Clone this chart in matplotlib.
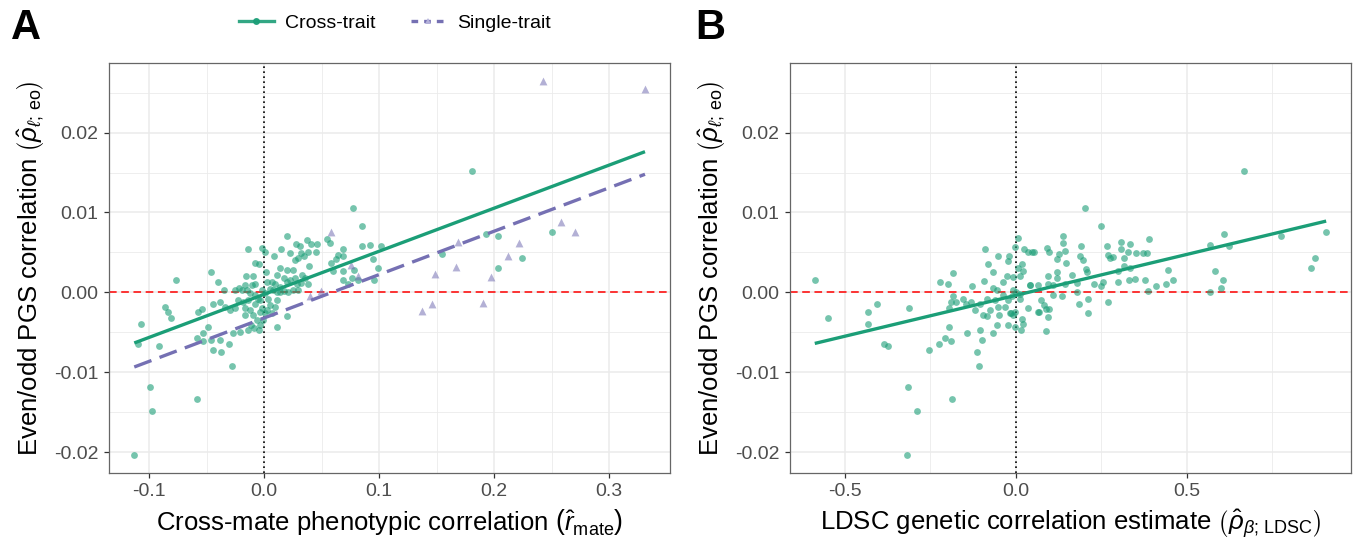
import matplotlib
matplotlib.use('Agg')
import matplotlib.pyplot as plt
from matplotlib.lines import Line2D
import numpy as np

plt.rcParams['font.family'] = ['Liberation Sans', 'DejaVu Sans']
plt.rcParams['mathtext.fontset'] = 'custom'
plt.rcParams['mathtext.rm'] = 'Liberation Sans'
plt.rcParams['mathtext.it'] = 'Liberation Sans:italic'
plt.rcParams['mathtext.bf'] = 'Liberation Sans:bold'
plt.rcParams['axes.unicode_minus'] = False

GREEN = '#1B9E77'
PURPLE = '#7570B3'

# ---- panel A : cross-trait points (r_mate, even/odd PGS corr)
a_cross_x = [0.0194, -0.0139, -0.0023, 0.0009, -0.0078, -0.0046, 0.0084, 0.0142, 0.0223, 0.0275,
             0.0310, 0.0368, 0.0406, 0.0455, 0.0449, 0.0377, 0.0316, 0.0267, 0.0296, 0.0345,
             0.0391, 0.0194, 0.0246, 0.0136, 0.0107, 0.0014, -0.0159, -0.0101, 0.0020, 0.0064,
             0.0093, 0.0174, 0.0194, 0.0223, 0.0267, 0.0281, 0.0325, 0.0354, 0.0383, 0.0316,
             -0.0467, -0.0403, -0.0351, -0.0165, -0.0110, -0.0078, -0.0217, -0.0255, -0.0197, -0.0154,
             -0.0125, -0.0081, -0.0023, 0.0006, -0.0052, 0.0049, 0.0078, 0.0107, 0.0136, 0.0171,
             0.0203, 0.0252, 0.0290, 0.0136, -0.0038, 0.0035, 0.0107, 0.0093, 0.0049, 0.0020,
             -0.0023, -0.0081, -0.0139, -0.0183, -0.0226, -0.0255, -0.0299, -0.0342, -0.0386, -0.0443,
             -0.0168, -0.0125, -0.0168, -0.0096, -0.0038, 0.0006, 0.0064, -0.0061, -0.0009, -0.0119,
             -0.0038, -0.0087, -0.0046, -0.0139, -0.0212, -0.0270, -0.0304, -0.0380, -0.0443, -0.0487,
             -0.0530, -0.0583, -0.0536, -0.0467, -0.0574, -0.0545, -0.0386, 0.0107, 0.0194, 0.0548,
             0.0571, -0.0284,
             -0.1130, -0.0994, -0.0980, -0.0588, -0.1075, -0.1100, -0.0916, -0.0770, -0.0860, -0.0837,
             -0.0809,
             0.0774, 0.0848, 0.0848, 0.0920, 0.1013, 0.0688, 0.0644, 0.0688, 0.0623, 0.0585,
             0.0948, 0.0991, 0.0780, 0.0688, 0.0600, 0.0688, 0.0760, 0.0818, 0.0954, 0.0731,
             0.1809, 0.1928, 0.2029, 0.1548, 0.2029, 0.2238, 0.2502]
a_cross_y = [0.0071, 0.0054, 0.0055, 0.0050, 0.0037, 0.0036, 0.0046, 0.0054, 0.0049, 0.0061,
             0.0058, 0.0066, 0.0060, 0.0060, 0.0050, 0.0051, 0.0049, 0.0040, 0.0043, 0.0045,
             0.0033, 0.0028, 0.0028, 0.0030, 0.0022, 0.0025, 0.0020, 0.0020, 0.0013, 0.0013,
             0.0011, 0.0018, 0.0013, 0.0015, 0.0018, 0.0011, 0.0022, 0.0018, 0.0011, 0.0012,
             0.0025, 0.0013, 0.0003, 0.0009, 0.0009, 0.0011, 0.0006, 0.0003, 0.0003, 0.0003,
             -0.0001, -0.0003, 0.0003, -0.0001, -0.0008, 0.0004, 0.0003, 0.0001, 0.0001, 0.0002,
             0.0001, 0.0003, 0.0003, 0.0007, -0.0010, -0.0008, -0.0010, -0.0018, -0.0016, -0.0022,
             -0.0020, -0.0014, -0.0010, -0.0012, -0.0010, -0.0020, -0.0022, -0.0018, -0.0012, -0.0014,
             -0.0020, -0.0022, -0.0028, -0.0028, -0.0025, -0.0026, -0.0026, -0.0035, -0.0035, -0.0041,
             -0.0041, -0.0045, -0.0047, -0.0047, -0.0050, -0.0051, -0.0064, -0.0074, -0.0072, -0.0043,
             -0.0051, -0.0057, -0.0061, -0.0059, -0.0024, -0.0021, -0.0060, -0.0043, -0.0030, 0.0067,
             0.0062, -0.0092,
             -0.0203, -0.0119, -0.0149, -0.0133, -0.0039, -0.0064, -0.0067, 0.0015, -0.0018, -0.0025,
             -0.0032,
             0.0105, 0.0083, 0.0058, 0.0059, 0.0058, 0.0054, 0.0047, 0.0045, 0.0042, 0.0037,
             0.0042, 0.0031, 0.0028, 0.0027, 0.0027, 0.0016, 0.0018, 0.0015, 0.0015, 0.0011,
             0.0152, 0.0073, 0.0070, 0.0048, 0.0031, 0.0043, 0.0075]

# ---- panel A : single-trait points
a_single_x = [0.0397, 0.0490, 0.0577, 0.0751, 0.0818, 0.1371, 0.1458, 0.1484, 0.1667, 0.1682,
              0.1905, 0.1969, 0.2123, 0.2218, 0.2426, 0.2580, 0.2699, 0.3311]
a_single_y = [-0.0004, 0.0002, 0.0076, 0.0034, 0.0020, -0.0023, -0.0015, 0.0023, 0.0032, 0.0063,
              -0.0013, 0.0019, 0.0045, 0.0062, 0.0265, 0.0088, 0.0075, 0.0255]

# ---- panel B : LDSC rg vs even/odd PGS corr
b_x = [-0.5877, -0.5498, -0.4329, -0.4319, -0.4046, -0.3840, -0.3723, -0.3119, -0.3158, -0.2895,
       -0.3187, -0.1873, -0.1090,
       -0.2534, -0.2232, -0.2066, -0.1891, -0.1940, -0.2212, -0.1969, -0.1823, -0.1842, -0.1891,
       -0.1745, -0.1940, -0.1530, -0.1452, -0.1287, -0.1316, -0.1189, -0.1433, -0.1121, -0.1043,
       -0.0994, -0.0897, -0.0799, -0.0653, -0.0507, -0.0234, -0.0185, -0.0916, -0.0848, -0.1043,
       -0.0945, -0.0848, -0.0750, -0.0653, -0.0556, -0.0604, -0.0507, -0.0478, -0.0653, -0.0556,
       -0.0361, -0.0263, -0.0088, -0.0380, -0.0312, -0.0234, -0.0214, -0.0166, -0.0019, -0.0019,
       0.0166, 0.0175, 0.0224, 0.0058, -0.0019, 0.0244, 0.0351, 0.0487, 0.0175, 0.0078,
       0.0205, 0.0127, 0.0419, 0.0127, 0.0370, 0.0643, -0.0070, 0.0010, -0.0120, 0.0110,
       -0.0136, -0.0088,
       0.2026, 0.2494, 0.1393, 0.1373, 0.0925, 0.0983, 0.0536, 0.1442, 0.1909, 0.1880,
       0.1978, 0.1276, 0.1217, 0.1461, 0.2679, 0.2709, 0.2757, 0.2835, 0.3069, 0.3069,
       0.3342, 0.3293, 0.3518, 0.3732, 0.3830, 0.3898, 0.3167, 0.3176, 0.3342, 0.3001,
       0.3001, 0.3313, 0.3498, 0.3781, 0.3859, 0.4093, 0.4385, 0.4453, 0.4590, 0.2055,
       0.2094, 0.1637, 0.1198, 0.1198, 0.0954, 0.0954, 0.0662, 0.1081, 0.1100, 0.1344,
       0.1442, 0.1783, 0.1783, 0.2299, 0.2494, 0.2562, 0.2124, 0.1861, 0.2104, 0.2689,
       0.0730, 0.0828, 0.0886, 0.0974, 0.0671, 0.0954, 0.0886, 0.0418,
       0.6676, 0.5681, 0.6091, 0.6237, 0.5827, 0.6071, 0.5993, 0.5681, 0.7757, 0.9073,
       0.8751, 0.8635]
b_y = [0.0015, -0.0032, -0.0025, -0.0040, -0.0014, -0.0064, -0.0067, -0.0019, -0.0119, -0.0149,
       -0.0203, -0.0133, -0.0092,
       -0.0072, -0.0064, -0.0057, -0.0061, -0.0043, 0.0013, 0.0010, 0.0024, -0.0005, -0.0012,
       -0.0012, -0.0020, -0.0008, -0.0015, 0.0008, -0.0012, -0.0022, -0.0051, -0.0075, -0.0047,
       -0.0060, 0.0054, 0.0036, 0.0025, 0.0045, 0.0039, 0.0045, 0.0014, -0.0008, -0.0014,
       -0.0028, -0.0030, -0.0022, 0.0005, 0.0003, -0.0009, -0.0018, -0.0028, -0.0051, -0.0041,
       0.0013, 0.0020, 0.0019, -0.0003, -0.0018, -0.0010, -0.0041, -0.0026, -0.0025, -0.0043,
       -0.0047, -0.0033, -0.0039, 0.0068, 0.0057, 0.0054, 0.0051, 0.0050, 0.0036, 0.0030,
       0.0027, 0.0020, 0.0009, -0.0008, -0.0020, -0.0025, 0.0003, 0.0001, -0.0005, -0.0002,
       -0.0026, -0.0028,
       0.0105, 0.0083, 0.0071, 0.0062, 0.0056, 0.0051, 0.0050, 0.0052, 0.0058, 0.0045,
       0.0040, 0.0048, 0.0042, 0.0037, 0.0058, 0.0047, 0.0043, 0.0044, 0.0063, 0.0054,
       0.0060, 0.0050, 0.0049, 0.0049, 0.0049, 0.0067, 0.0043, 0.0033, 0.0031, 0.0027,
       0.0013, 0.0015, 0.0017, 0.0015, 0.0002, 0.0008, 0.0010, 0.0028, 0.0016, 0.0029,
       0.0026, 0.0022, 0.0025, 0.0018, 0.0020, 0.0010, 0.0009, 0.0009, -0.0003, -0.0005,
       0.0011, 0.0012, 0.0001, 0.0010, 0.0008, 0.0013, -0.0008, -0.0014, -0.0026, -0.0012,
       -0.0010, -0.0016, -0.0021, -0.0021, -0.0025, -0.0031, -0.0048, 0.0009,
       0.0152, 0.0059, 0.0073, 0.0058, 0.0027, 0.0015, 0.0005, 0.0001, 0.0070, 0.0075,
       0.0043, 0.0031]

# regression lines (slope, intercept)
fit_a_cross = (0.0539, -0.00024)
fit_a_single = (0.0543, -0.00320)
fit_b_cross = (0.01024, -0.00037)

fig = plt.figure(figsize=(13.57, 5.47), dpi=100)
axA = fig.add_axes([0.0803, 0.1353, 0.4134, 0.7495])
axB = fig.add_axes([0.5822, 0.1353, 0.4134, 0.7495])


def style(ax, xmajor, xminor):
    ax.set_facecolor('white')
    yt = [-0.02, -0.01, 0.0, 0.01, 0.02]
    ax.set_yticks(yt)
    ax.set_yticklabels(['%.2f' % v for v in yt])
    ax.set_yticks([-0.015, -0.005, 0.005, 0.015, 0.025], minor=True)
    ax.set_xticks(xmajor)
    ax.set_xticks(xminor, minor=True)
    ax.grid(which='major', color='#EBEBEB', lw=1.1, zorder=0)
    ax.grid(which='minor', color='#EBEBEB', lw=0.6, zorder=0)
    ax.set_axisbelow(True)
    ax.tick_params(which='major', length=3.5, width=0.9, color='#333333',
                   labelsize=14, labelcolor='#4D4D4D', pad=4)
    ax.tick_params(which='minor', length=0)
    for s in ax.spines.values():
        s.set_color('#666666')
        s.set_linewidth(0.9)
    ax.axhline(0, color='red', lw=1.1, dashes=(5, 3), zorder=1)
    ax.axvline(0, color='black', lw=1.2, ls=(0, (1, 2)), zorder=1)
    ax.set_ylim(-0.0226, 0.0287)
    ax.set_ylabel(r'Even/odd PGS correlation $\left(\hat{\rho}_{\ell;\,\mathrm{eo}}\right)$',
                  fontsize=18.5, labelpad=5)


# panel A
style(axA, [-0.1, 0.0, 0.1, 0.2, 0.3], [-0.05, 0.05, 0.15, 0.25])
axA.set_xticklabels(['-0.1', '0.0', '0.1', '0.2', '0.3'])
axA.set_xlim(-0.135, 0.3528)
axA.scatter(a_cross_x, a_cross_y, s=24, color=GREEN, alpha=0.6, lw=0, zorder=2)
axA.scatter(a_single_x, a_single_y, s=32, marker='^', color=PURPLE, alpha=0.55, lw=0, zorder=2)
xa = np.array([min(a_cross_x + a_single_x), max(a_cross_x + a_single_x)])
axA.plot(xa, fit_a_cross[0] * xa + fit_a_cross[1], color=GREEN, lw=2.4, zorder=3,
         solid_capstyle='butt')
axA.plot(xa, fit_a_single[0] * xa + fit_a_single[1], color=PURPLE, lw=2.4, zorder=3,
         dashes=(5.5, 2.6))
axA.set_xlabel(r'Cross-mate phenotypic correlation $\left(\hat{r}_{\mathrm{mate}}\right)$',
               fontsize=18.5, labelpad=5)

# panel B
style(axB, [-0.5, 0.0, 0.5], [-0.25, 0.25, 0.75])
axB.set_xticklabels(['-0.5', '0.0', '0.5'])
axB.set_xlim(-0.66, 0.98)
axB.scatter(b_x, b_y, s=24, color=GREEN, alpha=0.6, lw=0, zorder=2)
xb = np.array([min(b_x), max(b_x)])
axB.plot(xb, fit_b_cross[0] * xb + fit_b_cross[1], color=GREEN, lw=2.4, zorder=3,
         solid_capstyle='butt')
axB.set_xlabel(r'LDSC genetic correlation estimate $\left(\hat{\rho}_{\beta;\,\mathrm{LDSC}}\right)$',
               fontsize=18.5, labelpad=5)

# panel letters
fig.text(0.008, 0.985, 'A', fontsize=30, fontweight='bold', va='top', ha='left')
fig.text(0.512, 0.985, 'B', fontsize=30, fontweight='bold', va='top', ha='left')

# legend
handles = [Line2D([], [], color=GREEN, lw=2.4, marker='o', ms=4, alpha=0.9),
           Line2D([], [], color=PURPLE, lw=2.4, dashes=(2.0, 1.8), marker='^', ms=5,
                  markerfacecolor='#B3B0D9', markeredgewidth=0)]
fig.legend(handles, ['Cross-trait', 'Single-trait'], loc='center', ncol=2,
           bbox_to_anchor=(0.291, 0.958), frameon=False, fontsize=14,
           handlelength=1.8, handletextpad=0.6, columnspacing=1.8)

fig.savefig('out.png', dpi=100)
